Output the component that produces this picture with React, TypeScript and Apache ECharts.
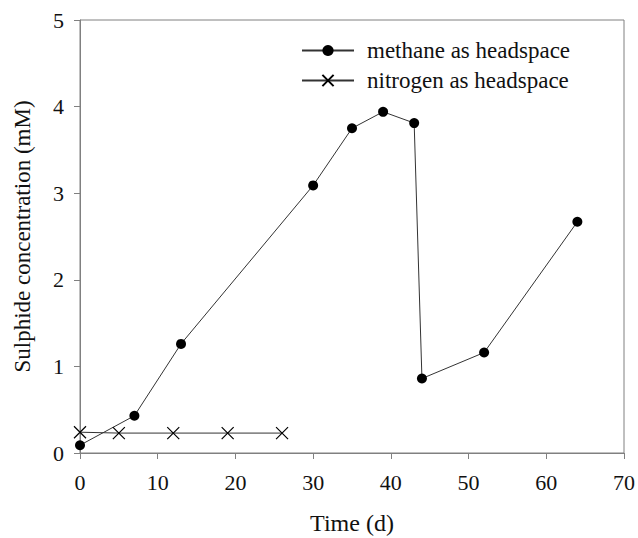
import React, { useEffect, useRef } from "react";
import * as echarts from "echarts";

const methaneTime = [0, 7, 13, 30, 35, 39, 43, 44, 52, 64];
const methaneValues = [0.09, 0.43, 1.26, 3.09, 3.75, 3.94, 3.81, 0.86, 1.16, 2.67];
const nitrogenTime = [0, 5, 12, 19, 26];
const nitrogenValues = [0.24, 0.23, 0.23, 0.23, 0.23];
const seriesNames = ["methane as headspace", "nitrogen as headspace"];

const crossPath = "path://M0,0L10,10M10,0L0,10";
const FONT = "'Liberation Serif', 'Times New Roman', serif";

export default function App() {
  const ref = useRef<HTMLDivElement>(null);
  useEffect(() => {
    if (!ref.current) return;
    const chart = echarts.init(ref.current, null, { renderer: "svg" });
    const axisColor = "#808080";
    chart.setOption({
      animation: false,
      backgroundColor: "#fff",
      textStyle: { fontFamily: FONT },
      grid: {
        left: 80,
        top: 20,
        right: 14,
        bottom: 85,
        containLabel: false,
        outerBoundsMode: "none",
        show: true,
        borderColor: axisColor,
        borderWidth: 1,
      },
      legend: {
        orient: "vertical",
        left: 296,
        top: 34,
        itemWidth: 52,
        itemHeight: 14,
        itemGap: 7,
        textStyle: { fontFamily: FONT, fontSize: 23, color: "#111", padding: [0, 0, 0, 8] },
        data: seriesNames,
      },
      xAxis: {
        type: "value",
        min: 0,
        max: 70,
        interval: 10,
        name: "Time (d)",
        nameLocation: "middle",
        nameGap: 58,
        nameTextStyle: { fontFamily: FONT, fontSize: 24, color: "#111" },
        axisLine: { show: true, lineStyle: { color: axisColor } },
        axisTick: { show: true, inside: false, length: 6, lineStyle: { color: axisColor } },
        axisLabel: { margin: 18, fontFamily: FONT, fontSize: 22, color: "#111" },
        splitLine: { show: false },
      },
      yAxis: {
        type: "value",
        min: 0,
        max: 5,
        interval: 1,
        name: "Sulphide concentration (mM)",
        nameLocation: "middle",
        nameGap: 46,
        nameTextStyle: { fontFamily: FONT, fontSize: 23, color: "#111" },
        axisLine: { show: true, lineStyle: { color: axisColor } },
        axisTick: { show: true, inside: false, length: 6, lineStyle: { color: axisColor } },
        axisLabel: { margin: 16, fontFamily: FONT, fontSize: 22, color: "#111" },
        splitLine: { show: false },
      },
      series: [
        {
          name: seriesNames[0],
          type: "line",
          data: methaneTime.map((t, i) => [t, methaneValues[i]]),
          symbol: "circle",
          symbolSize: 10,
          lineStyle: { color: "#333", width: 1 },
          itemStyle: { color: "#000" },
        },
        {
          name: seriesNames[1],
          type: "line",
          data: nitrogenTime.map((t, i) => [t, nitrogenValues[i]]),
          symbol: crossPath,
          symbolSize: 12,
          lineStyle: { color: "#333", width: 1 },
          itemStyle: { color: "none", borderColor: "#000", borderWidth: 1.2 },
        },
      ],
    });
    return () => chart.dispose();
  }, []);
  return (
    <div
      ref={ref}
      style={{ position: "absolute", left: 0, top: 0, width: 638, height: 538 }}
    />
  );
}
